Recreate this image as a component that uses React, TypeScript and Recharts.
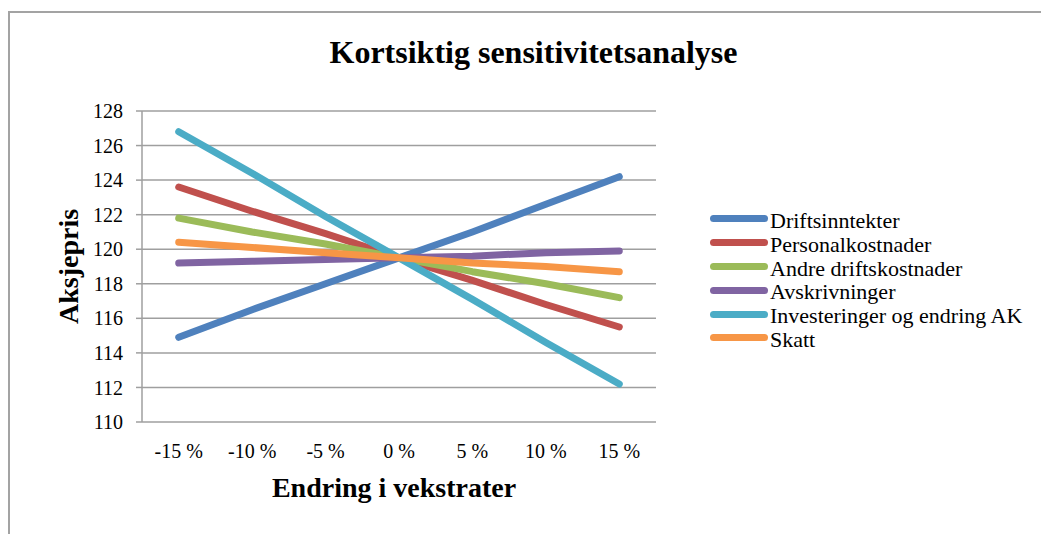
import { CartesianGrid, Label, Legend, Line, LineChart, XAxis, YAxis } from "recharts";

const CHANGES = [-15, -10, -5, 0, 5, 10, 15];
const BOUNDS = [-17.5, -12.5, -7.5, -2.5, 2.5, 7.5, 12.5, 17.5];
const Y_TICKS = [110, 112, 114, 116, 118, 120, 122, 124, 126, 128];

const DRIFTSINNTEKTER = [114.9, 116.5, 118.0, 119.5, 121.0, 122.6, 124.2];
const PERSONALKOSTNADER = [123.6, 122.2, 120.9, 119.5, 118.2, 116.8, 115.5];
const ANDRE_DRIFTSKOSTNADER = [121.8, 121.0, 120.3, 119.5, 118.7, 118.0, 117.2];
const AVSKRIVNINGER = [119.2, 119.3, 119.4, 119.5, 119.6, 119.8, 119.9];
const INVESTERINGER = [126.8, 124.4, 121.9, 119.5, 117.1, 114.6, 112.2];
const SKATT = [120.4, 120.1, 119.8, 119.5, 119.2, 119.0, 118.7];

const SERIES = [
  { key: "Driftsinntekter", values: DRIFTSINNTEKTER, color: "#4f81bd" },
  { key: "Personalkostnader", values: PERSONALKOSTNADER, color: "#c0504d" },
  { key: "Andre driftskostnader", values: ANDRE_DRIFTSKOSTNADER, color: "#9bbb59" },
  { key: "Avskrivninger", values: AVSKRIVNINGER, color: "#8064a2" },
  { key: "Investeringer og endring AK", values: INVESTERINGER, color: "#4bacc6" },
  { key: "Skatt", values: SKATT, color: "#f79646" },
];

const data = CHANGES.map((x, i) => {
  const row: Record<string, number> = { x };
  SERIES.forEach((s) => {
    row[s.key] = s.values[i];
  });
  return row;
});

const FONT = "Liberation Serif, Times New Roman, serif";
const GRID = "#9f9f9f";

function renderLegend(props: any) {
  const order = SERIES.map((s) => s.key);
  const items = [...(props.payload || [])].sort(
    (a: any, b: any) => order.indexOf(a.value) - order.indexOf(b.value)
  );
  return (
    <div style={{ fontFamily: FONT, fontSize: 22, lineHeight: "23.8px", color: "#000" }}>
      {items.map((item: any) => (
        <div key={item.value} style={{ display: "flex", alignItems: "center", whiteSpace: "nowrap" }}>
          <span
            style={{
              display: "inline-block",
              width: 58,
              height: 7,
              borderRadius: 4,
              background: item.color,
              marginRight: 2,
              position: "relative",
              top: -2,
            }}
          />
          <span style={{ fontFamily: FONT, fontSize: 22 }}>{item.value}</span>
        </div>
      ))}
    </div>
  );
}

export default function App() {
  return (
    <div
      style={{
        position: "fixed",
        left: 0,
        top: 0,
        width: 1041,
        height: 534,
        overflow: "hidden",
        background: "#fff",
      }}
    >
      <div
        style={{
          position: "absolute",
          left: 8,
          top: 11,
          width: 1100,
          height: 600,
          borderTop: "2px solid #a3a3a3",
          borderLeft: "2px solid #a3a3a3",
        }}
      />
      <div
        style={{
          position: "absolute",
          left: 0,
          top: 36,
          width: 1067,
          textAlign: "center",
          fontFamily: FONT,
          fontWeight: "bold",
          fontSize: 32,
          lineHeight: "32px",
          color: "#000",
        }}
      >
        Kortsiktig sensitivitetsanalyse
      </div>
      <div style={{ position: "absolute", left: 0, top: 0 }}>
        <LineChart width={1041} height={534} data={data} margin={{ top: 111, right: 385, bottom: 12, left: 42 }}>
          <CartesianGrid xAxisId="labels" vertical={false} stroke={GRID} strokeWidth={1.5} />
          <XAxis
            xAxisId="marks"
            type="number"
            dataKey="x"
            domain={[-17.5, 17.5]}
            allowDataOverflow
            ticks={BOUNDS}
            tick={false}
            tickSize={6}
            height={0}
            axisLine={{ stroke: GRID, strokeWidth: 1.5 }}
            tickLine={{ stroke: GRID, strokeWidth: 1.5 }}
          />
          <XAxis
            xAxisId="labels"
            type="number"
            dataKey="x"
            domain={[-17.5, 17.5]}
            allowDataOverflow
            ticks={CHANGES}
            interval={0}
            tickFormatter={(v) => `${v} %`}
            tickLine={false}
            axisLine={false}
            tickSize={0}
            tickMargin={22}
            height={100}
            tick={{ fill: "#000", fontSize: 20, fontFamily: FONT }}
          >
            <Label
              content={(p: any) => {
                const vb = p.viewBox;
                return (
                  <text
                    x={vb.x + vb.width / 2 - 5}
                    y={vb.y + 75}
                    textAnchor="middle"
                    fontFamily={FONT}
                    fontWeight="bold"
                    fontSize={28}
                    fill="#000"
                  >
                    Endring i vekstrater
                  </text>
                );
              }}
            />
          </XAxis>
          <YAxis
            domain={[110, 128]}
            ticks={Y_TICKS}
            interval={0}
            width={100}
            tickSize={6}
            tickMargin={13}
            axisLine={{ stroke: GRID, strokeWidth: 1.5 }}
            tickLine={{ stroke: GRID, strokeWidth: 1.5 }}
            tick={{ fill: "#000", fontSize: 20, fontFamily: FONT }}
          >
            <Label
              content={(p: any) => {
                const vb = p.viewBox;
                const cx = vb.x + 36;
                const cy = vb.y + vb.height / 2;
                return (
                  <text
                    x={0}
                    y={0}
                    transform={`translate(${cx}, ${cy}) rotate(-90)`}
                    textAnchor="middle"
                    fontFamily={FONT}
                    fontWeight="bold"
                    fontSize={28}
                    fill="#000"
                  >
                    Aksjepris
                  </text>
                );
              }}
            />
          </YAxis>
          <Legend
            layout="vertical"
            align="center"
            verticalAlign="middle"
            wrapperStyle={{ left: 710, top: 209, fontFamily: FONT }}
            content={renderLegend}
          />
          {SERIES.map((s) => (
            <Line
              key={s.key}
              xAxisId="labels"
              type="linear"
              dataKey={s.key}
              name={s.key}
              stroke={s.color}
              strokeWidth={7}
              strokeLinecap="round"
              strokeLinejoin="round"
              dot={false}
              activeDot={false}
              isAnimationActive={false}
            />
          ))}
        </LineChart>
      </div>
    </div>
  );
}
